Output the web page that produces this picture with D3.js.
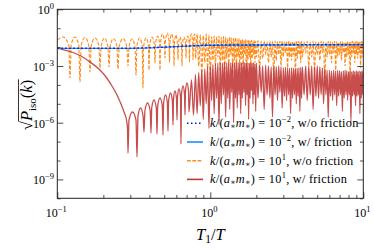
<!DOCTYPE html>
<html><head><meta charset="utf-8">
<script src="https://cdn.jsdelivr.net/npm/d3@7"></script>
<style>body{margin:0;background:#fff}svg{display:block}text{font-family:"Liberation Serif","DejaVu Serif",serif;fill:#000}</style>
</head><body><svg id="c" width="374" height="249"></svg>
<script>
// ---------- data ----------
const xTicks = [0.1, 1, 10];
const xTickExp = ["\u22121", "0", "1"];
const xMinor = [0.2,0.3,0.4,0.5,0.6,0.7,0.8,0.9,2,3,4,5,6,7,8,9];
const yTicks = [1, 1e-3, 1e-6, 1e-9];
const yTickExp = ["0", "\u22123", "\u22126", "\u22129"];
const yMinor = [1e-1,1e-2,1e-4,1e-5,1e-7,1e-8,1e-10];

const blueT = [0.1, 0.3, 0.5, 0.7, 1, 2, 10];
const blueNoFricP = [8.7e-3, 8.75e-3, 1.0e-2, 1.14e-2, 1.26e-2, 1.30e-2, 1.34e-2];
const blueFricP = [8.64e-3, 8.64e-3, 9.76e-3, 1.12e-2, 1.25e-2, 1.29e-2, 1.34e-2];

const orangeT = [0.1000,0.1090,0.1189,0.1211,0.1233,0.1305,0.1382,0.1407,0.1433,0.1517,
0.1606,0.1636,0.1666,0.1764,0.1870,0.1901,0.1933,0.2035,0.2142,0.2177,
0.2214,0.2330,0.2452,0.2493,0.2539,0.2688,0.2846,0.2898,0.2942,0.3078,
0.3220,0.3269,0.3313,0.3446,0.3588,0.3632,0.3670,0.3800,0.3933,0.3975,
0.4017,0.4159,0.4305,0.4351,0.4390,0.4518,0.4649,0.4691,0.4733,0.4871,
0.5012,0.5057,0.5096,0.5228,0.5371,0.5412,0.5453,0.5594,0.5747,0.5791,
0.5835,0.5968,0.6104,0.6150,0.6197,0.6338,0.6483,0.6532,0.6581,0.6731,
0.6895,0.6937,0.6979,0.7117,0.7268,0.7312,0.7357,0.7502,0.7661,0.7708,
0.7754,0.7907];
const orangeP = [2.37e-2,3.42e-2,1.29e-2,2.32e-4,1.29e-2,3.42e-2,1.22e-2,1.42e-4,1.22e-2,3.22e-2,
1.14e-2,4.81e-4,1.14e-2,3.03e-2,1.14e-2,7.84e-4,1.14e-2,3.03e-2,1.08e-2,8.85e-4,
1.08e-2,2.85e-2,1.08e-2,6.94e-4,1.08e-2,2.85e-2,1.01e-2,1.0e-3,1.01e-2,2.68e-2,
1.01e-2,3.34e-4,1.14e-2,3.03e-2,1.14e-2,6.85e-5,1.14e-2,3.03e-2,1.29e-2,6.14e-4,
1.29e-2,3.42e-2,1.46e-2,1.44e-3,1.46e-2,3.87e-2,1.86e-2,6.14e-4,1.86e-2,4.93e-2,
2.10e-2,2.65e-3,2.10e-2,5.57e-2,2.10e-2,1.63e-3,1.86e-2,4.93e-2,1.65e-2,1.0e-3,
1.65e-2,4.37e-2,1.29e-2,2.08e-3,1.29e-2,3.42e-2,1.29e-2,1.0e-3,1.29e-2,3.42e-2,
1.46e-2,2.65e-3,1.46e-2,3.87e-2,1.86e-2,1.63e-3,1.86e-2,4.93e-2,1.86e-2,2.08e-3,
1.86e-2,4.93e-2];

const redT = [0.1000,0.1211,0.1407,0.1636,0.1901,0.2081,0.2278,0.2456,0.2608,0.2729,
0.2833,0.2876,0.2898,0.2942,0.3101,0.3269,0.3318,0.3369,0.3499,0.3637,
0.3687,0.3737,0.3887,0.4048,0.4097,0.4140,0.4285,0.4437,0.4483,0.4531,
0.4691,0.4856,0.4907,0.4952,0.5096,0.5243,0.5290,0.5339,0.5494,0.5653,
0.5704,0.5747,0.5878,0.6013,0.6058,0.6104,0.6242,0.6386,0.6433,0.6483,
0.6630,0.6782,0.6832,0.6885,0.7041,0.7203,0.7256,0.7536,0.7766];
const redP = [8.64e-3,5.85e-3,3.59e-3,1.63e-3,6.14e-4,2.62e-4,8.75e-5,2.92e-5,9.76e-6,3.68e-6,
1.39e-6,5.24e-7,2.49e-8,1.39e-6,3.68e-6,1.39e-6,1.53e-8,2.26e-6,6.0e-6,2.26e-6,
3.22e-7,4.16e-6,1.10e-5,4.16e-6,2.85e-7,6.0e-6,1.59e-5,6.0e-6,2.52e-7,7.65e-6,
2.03e-5,7.65e-6,2.23e-7,1.10e-5,2.92e-5,1.10e-5,3.64e-7,1.41e-5,3.73e-5,1.41e-5,
7.55e-7,1.79e-5,4.75e-5,1.79e-5,1.39e-6,2.29e-5,6.06e-5,2.29e-5,7.46e-8,3.30e-5,
8.75e-5,3.30e-5,2.55e-6,4.75e-5,1.26e-4,4.75e-5,3.68e-6,1.82e-4,2.55e-6];

// dense (rapidly oscillating) part, shared T grid
const denseT = [0.80,0.82,0.84,0.86,0.88,0.90,0.92,0.94,0.96,0.98,
1.00,1.02,1.04,1.06,1.08,1.10,1.12,1.14,1.16,1.18,
1.20,1.22,1.24,1.26,1.28,1.30,1.32,1.34,1.36,1.38,
1.40,1.42,1.44,1.46,1.48,1.50,1.52,1.54,1.56,1.58,
1.60,1.62,1.64,1.66,1.68,1.70,1.72,1.74,1.76,1.78,
1.80,1.82,1.84,1.86,1.88,1.90,1.92,1.94,1.96,1.98,
2.00,
2.05,2.10,2.15,2.20,2.25,2.30,2.35,2.40,2.45,2.50,
2.55,2.60,2.65,2.70,2.75,2.80,2.85,2.90,2.95,3.00,
3.05,3.10,3.15,3.20,3.25,3.30,3.35,3.40,3.45,3.50,
3.55,3.60,3.65,3.70,3.75,3.80,3.85,3.90,3.95,4.00,
4.1,4.2,4.3,4.4,4.5,4.6,4.7,4.8,4.9,5.0,
5.1,5.2,5.3,5.4,5.5,5.6,5.7,5.8,5.9,6.0,
6.1,6.2,6.3,6.4,6.5,6.6,6.7,6.8,6.9,7.0,
7.1,7.2,7.3,7.4,7.5,7.6,7.7,7.8,7.9,8.0,
8.1,8.2,8.3,8.4,8.5,8.6,8.7,8.8,8.9,9.0,
9.1,9.2,9.3,9.4,9.5,9.6,9.7,9.8,9.9,10.0];
const orangeDenseP = [2.5e-3,5.0e-2,1.0e-3,4.4e-2,3e-4,4.0e-2,1.5e-3,5.0e-2,8e-4,4.4e-2,
2e-4,3.5e-2,2e-3,3.8e-2,1e-3,3.4e-2,3e-3,3.8e-2,5e-4,3.2e-2,
2e-3,3.6e-2,1.5e-4,3.4e-2,2.5e-3,3.0e-2,1e-3,3.4e-2,4e-3,3.0e-2,
4e-4,2.8e-2,2e-3,3.2e-2,1e-3,2.6e-2,3e-3,2.8e-2,6e-4,2.4e-2,
2.5e-3,2.6e-2,1.2e-3,2.2e-2,4e-3,2.4e-2,2e-4,2.2e-2,2e-3,2.4e-2,
3e-3,2.1e-2,8e-4,2.3e-2,2.5e-3,2.0e-2,4e-3,2.2e-2,1.5e-3,2.0e-2,
3e-3,
2.2e-2,6e-4,2.0e-2,2.5e-3,2.1e-2,4e-3,1.9e-2,1.5e-3,2.1e-2,3e-3,
2.0e-2,1.5e-4,2.1e-2,2e-3,1.9e-2,4e-3,2.0e-2,1e-3,2.1e-2,3e-3,
1.9e-2,5e-3,2.0e-2,8e-4,2.1e-2,3e-3,1.9e-2,2e-3,2.0e-2,4e-3,
1.9e-2,3e-4,2.1e-2,2.5e-3,2.0e-2,4e-3,1.9e-2,1.5e-3,2.0e-2,3e-3,
1.9e-2,5e-3,2.0e-2,1e-3,1.8e-2,3e-3,2.0e-2,5e-4,1.9e-2,4e-3,
1.8e-2,2e-3,2.0e-2,5e-3,1.9e-2,1e-4,1.8e-2,3e-3,2.0e-2,4e-3,
1.9e-2,1.5e-3,1.8e-2,5e-3,2.0e-2,6e-4,1.9e-2,3e-3,1.8e-2,4e-3,
1.9e-2,2e-3,2.0e-2,5e-3,1.8e-2,1e-3,1.9e-2,3e-3,2.0e-2,4e-3,
1.8e-2,2e-4,1.9e-2,3e-3,2.0e-2,5e-3,1.8e-2,1.5e-3,1.9e-2,4e-3,
2.0e-2,2.5e-3,1.8e-2,5e-3,1.9e-2,8e-4,2.0e-2,3e-3,1.9e-2,4e-3];
const redDenseP = [3.5e-4,3e-6,4.5e-4,8e-6,6e-4,1.5e-6,7e-4,1e-5,9e-4,5e-7,
1.0e-3,1.5e-5,1.2e-3,3e-6,1.3e-3,2e-5,1.4e-3,8e-7,1.5e-3,1e-5,
1.4e-3,3e-5,1.6e-3,2e-6,1.5e-3,2e-5,1.6e-3,5e-6,1.5e-3,4e-5,
1.6e-3,1e-6,1.5e-3,2e-5,1.6e-3,6e-6,1.5e-3,3e-5,1.4e-3,3e-6,
1.5e-3,2e-5,1.6e-3,4e-5,1.5e-3,8e-6,1.4e-3,3e-5,1.5e-3,1.5e-6,
1.4e-3,2e-5,1.5e-3,5e-5,1.4e-3,1e-5,1.5e-3,3e-5,1.3e-3,4e-6,
1.4e-3,
2e-5,1.1e-3,4e-5,1.0e-3,5e-6,1.1e-3,3e-5,1.0e-3,2e-5,9e-4,
2e-6,1.0e-3,3e-5,9e-4,1.5e-5,1.0e-3,4e-5,9e-4,6e-6,8e-4,
2.5e-5,8.5e-4,1.5e-5,8e-4,3e-5,7.5e-4,3e-6,8e-4,2e-5,7.5e-4,
3e-5,7e-4,1e-5,7.5e-4,2.5e-5,8e-4,4e-6,8.5e-4,2e-5,9e-4,
3e-5,1.0e-3,1.5e-5,1.0e-3,3e-5,1.0e-3,5e-6,9e-4,2.5e-5,1.0e-3,
2e-5,9e-4,3e-5,8e-4,1e-5,7e-4,3e-5,6e-4,2e-6,6e-4,
2.5e-5,5.5e-4,1.5e-5,6e-4,3e-5,5.5e-4,8e-6,6e-4,2.5e-5,5.5e-4,
3e-5,5e-4,4e-6,5.5e-4,2e-5,6e-4,3e-5,5.5e-4,1.5e-5,5e-4,
3e-5,5.5e-4,1e-6,5e-4,2.5e-5,5.5e-4,3e-5,5e-4,8e-6,5.5e-4,
2.5e-5,5e-4,3e-5,5.5e-4,3e-6,5e-4,2e-5,5.5e-4,3e-5,5e-4];

const legendExp = ["\u22122", "\u22122", "1", "1"];
const legendTail = [", w/o friction", ", w/ friction", ", w/o friction", ", w/ friction"];

// ---------- drawing ----------
const M = {l:57.3, r:363.3, t:9.3, b:198.3};
const svg = d3.select("#c");
const x = d3.scaleLog().domain([0.1, 10]).range([M.l, M.r]);
const y = d3.scaleLog().domain([1e-10, 1]).range([M.b, M.t]);

svg.append("defs").append("clipPath").attr("id","clip")
  .append("rect").attr("x",M.l).attr("y",M.t).attr("width",M.r-M.l).attr("height",M.b-M.t);

const zip = (a,b) => a.map((t,i)=>[t,b[i]]);
const line = d3.line().x(d=>x(d[0])).y(d=>y(d[1])).curve(d3.curveMonotoneX);

const series = [
  {id:"orange", data: zip(orangeT, orangeP).concat(zip(denseT, orangeDenseP)), color:"#ff8c1a", w:1.1, dash:"3.7,1.6", op:1},
  {id:"red", data: zip(redT, redP).concat(zip(denseT, redDenseP)), color:"#c23b3b", w:1.3, dash:null, op:0.9},
  {id:"bluefric", data: zip(blueT, blueFricP), color:"#1e8fff", w:1.3, dash:null, op:1},
  {id:"blueno", data: zip(blueT, blueNoFricP), color:"#1010cc", w:1.5, dash:"1.5,2.5", op:1}
];
const plot = svg.append("g").attr("clip-path","url(#clip)");
series.forEach(s=>{
  plot.append("path").datum(s.data).attr("d", line)
    .attr("fill","none").attr("stroke", s.color).attr("stroke-width", s.w)
    .attr("stroke-opacity", s.op)
    .attr("stroke-dasharray", s.dash);
});

// axes with inward ticks
function ax(gen, tr, vals, size){
  svg.append("g").attr("transform", tr)
    .call(gen.tickValues(vals).tickSize(-size).tickFormat(""))
    .call(g=>{g.select(".domain").remove(); g.selectAll("line").attr("stroke","#222").attr("stroke-width",0.8);});
}
ax(d3.axisBottom(x), `translate(0,${M.b})`, xTicks, 6);
ax(d3.axisBottom(x), `translate(0,${M.b})`, xMinor, 3.3);
ax(d3.axisTop(x), `translate(0,${M.t})`, xTicks, 6);
ax(d3.axisTop(x), `translate(0,${M.t})`, xMinor, 3.3);
ax(d3.axisLeft(y), `translate(${M.l},0)`, yTicks, 6);
ax(d3.axisLeft(y), `translate(${M.l},0)`, yMinor, 3.3);
ax(d3.axisRight(y), `translate(${M.r},0)`, yTicks, 6);
ax(d3.axisRight(y), `translate(${M.r},0)`, yMinor, 3.3);

svg.append("rect").attr("x",M.l).attr("y",M.t).attr("width",M.r-M.l).attr("height",M.b-M.t)
  .attr("fill","none").attr("stroke","#222").attr("stroke-width",1);

// tick labels
xTicks.forEach((v,i)=>{
  const t = svg.append("text").attr("x", x(v)-1).attr("y", 216.5).attr("text-anchor","middle").attr("font-size",12);
  t.append("tspan").text("10");
  t.append("tspan").attr("font-size",8.5).attr("dy",-5).text(xTickExp[i]);
});
yTicks.forEach((v,i)=>{
  const t = svg.append("text").attr("x", 54).attr("y", y(v)+4.8).attr("text-anchor","end").attr("font-size",12);
  t.append("tspan").text("10");
  t.append("tspan").attr("font-size",8.5).attr("dy",-5).text(yTickExp[i]);
});

// x label
{
  const t = svg.append("text").attr("x", (M.l+M.r)/2).attr("y", 240).attr("text-anchor","middle").attr("font-size",16.5);
  t.append("tspan").attr("font-style","italic").text("T");
  t.append("tspan").attr("font-size",11.5).attr("dy",3).text("1");
  t.append("tspan").attr("dy",-3).text("/");
  t.append("tspan").attr("font-style","italic").text("T");
}
// y label
{
  const g = svg.append("g").attr("transform","translate(32,105) rotate(-90)");
  const t = g.append("text").attr("font-size",16.5);
  t.append("tspan").text("\u221A");
  t.append("tspan").attr("font-style","italic").text("P");
  t.append("tspan").attr("font-size",11).attr("dy",3.5).text("iso");
  t.append("tspan").attr("dy",-3.5).text("(");
  t.append("tspan").attr("font-style","italic").text("k");
  t.append("tspan").text(")");
  const w = t.node().getComputedTextLength();
  const sw = t.node().getSubStringLength(0,1);
  t.attr("x", -w/2);
  g.append("line").attr("x1", -w/2+sw-0.5).attr("x2", w/2+0.5).attr("y1",-13.5).attr("y2",-13.5)
    .attr("stroke","#000").attr("stroke-width",0.8);
}

// legend
const legendStyles = [series[3], series[2], series[0], series[1]];
legendStyles.forEach((s,i)=>{
  const cy = 123.3 + i*18.7;
  svg.append("line").attr("x1",187).attr("x2",203).attr("y1",cy).attr("y2",cy)
    .attr("stroke", s.color).attr("stroke-width", 1.6).attr("stroke-dasharray", s.dash);
  const t = svg.append("text").attr("x",210).attr("y",cy+4).attr("font-size",12.3).attr("letter-spacing",0.25);
  t.append("tspan").attr("font-style","italic").text("k");
  t.append("tspan").text("/(");
  t.append("tspan").attr("font-style","italic").text("a");
  t.append("tspan").attr("font-size",8).attr("dy",2).text("\u2217");
  t.append("tspan").attr("font-style","italic").attr("dy",-2).text("m");
  t.append("tspan").attr("font-size",8).attr("dy",2).text("\u2217");
  t.append("tspan").attr("dy",-2).text(") = 10");
  t.append("tspan").attr("font-size",8.5).attr("dy",-5).text(legendExp[i]);
  t.append("tspan").attr("dy",5).text(legendTail[i]);
});
</script></body></html>
